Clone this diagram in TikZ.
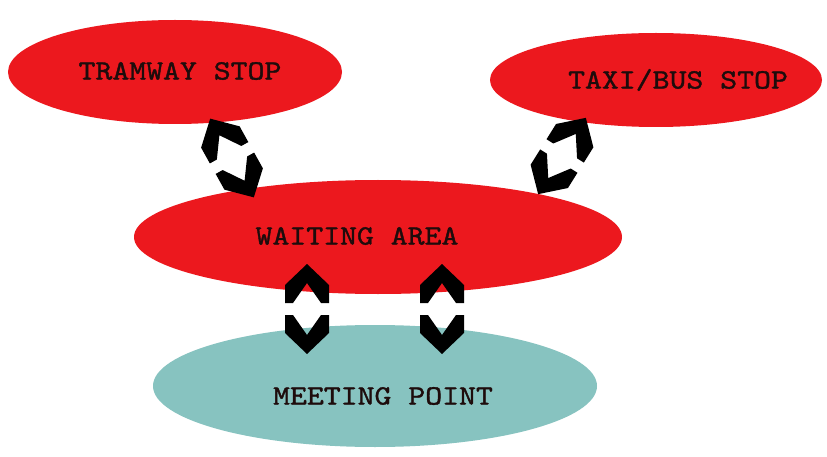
\documentclass[tikz,border=0pt]{standalone}
\usepackage{fontspec}
\newfontfamily\lab{lmmono10-regular.otf}[FakeBold=1.2]
\usetikzlibrary{shapes.geometric}
\definecolor{stopred}{RGB}{236,24,30}
\definecolor{meetteal}{RGB}{135,195,192}
\definecolor{labink}{RGB}{30,12,12}
\tikzset{
  place/.style={ellipse, draw=none, inner sep=0pt},
  redplace/.style={place, fill=stopred},
  tealplace/.style={place, fill=meetteal},
  lbl/.style={font=\lab\fontsize{28}{30}\selectfont, text=labink, inner sep=0pt, xscale=1.15},
  pics/dchev/.style={code={
    \fill[black] (-22,-6) -- (-22,-24) -- (0,-45) -- (22,-24) -- (22,-6) -- (14,-6) -- (0,-26) -- (-14,-6) -- cycle;
    \fill[black] (-22,6) -- (-22,24) -- (0,45) -- (22,24) -- (22,6) -- (14,6) -- (0,26) -- (-14,6) -- cycle;
  }}
}
\begin{document}
\begin{tikzpicture}[x=1pt,y=-1pt]
\useasboundingbox[fill=white] (0,0) rectangle (827,457);
\node[redplace, minimum width=334pt, minimum height=104pt] (tram) at (175,72) {};
\node[redplace, minimum width=332pt, minimum height=94pt] (taxi) at (656,80) {};
\node[redplace, minimum width=488pt, minimum height=114pt] (wait) at (378,237) {};
\node[tealplace, minimum width=444pt, minimum height=122pt] (meet) at (375,386) {};
\node[lbl] (tramtxt) at (180,71) {TRAMWAY STOP};
\node[lbl] (taxitxt) at (678,80) {TAXI/BUS STOP};
\node[lbl] (waittxt) at (357,236) {WAITING AREA};
\node[lbl] (meettxt) at (383,396) {MEETING POINT};
\coordinate (c1) at (232,158);
\coordinate (c2) at (562,156);
\coordinate (c3) at (307,309);
\coordinate (c4) at (442,309);
\pic[rotate=29] at (c1) {dchev};
\pic[rotate=-32] at (c2) {dchev};
\pic at (c3) {dchev};
\pic at (c4) {dchev};
\end{tikzpicture}
\end{document}
